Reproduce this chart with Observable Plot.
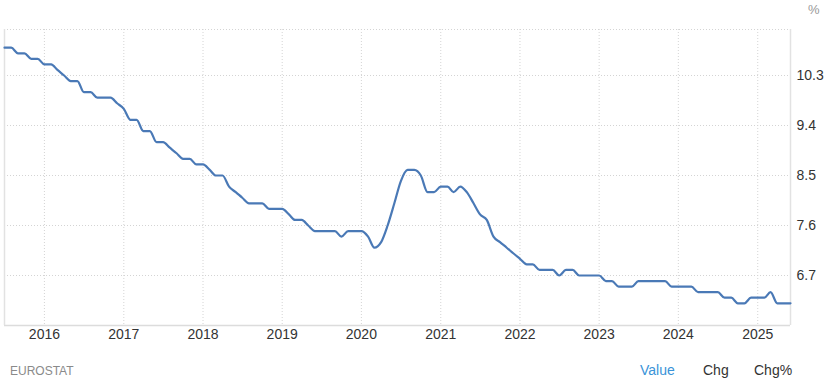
<!DOCTYPE html>
<html>
<head>
<meta charset="utf-8">
<script src="https://cdn.jsdelivr.net/npm/d3@7"></script>
<script src="https://cdn.jsdelivr.net/npm/@observablehq/plot@0.6"></script>
<style>
  html, body { margin: 0; padding: 0; background: #fff; }
  body { width: 835px; height: 385px; position: relative; overflow: hidden;
         font-family: "Liberation Sans", Arial, sans-serif; }
  #chart { position: absolute; left: 0; top: 0; }
  .lbl { position: absolute; white-space: nowrap; line-height: 1; }
</style>
</head>
<body>
<div id="chart"></div>
<div class="lbl" style="left:808px; top:3px; font-size:13px; color:#999;">%</div>
<div class="lbl" style="left:10px; top:365px; font-size:12px; color:#8a8a8a;">EUROSTAT</div>
<div class="lbl" style="left:640px; top:363px; font-size:14px; color:#3a93d8;">Value</div>
<div class="lbl" style="left:703px; top:363px; font-size:14px; color:#333;">Chg</div>
<div class="lbl" style="left:754px; top:363px; font-size:14px; color:#333;">Chg%</div>
<script>
// Monthly values, July 2015 – June 2025 (%)
const firstMonth = "2015-07-01";
const values2015 = [10.8, 10.8, 10.7, 10.7, 10.6, 10.6];               // Jul–Dec
const values2016 = [10.5, 10.5, 10.4, 10.3, 10.2, 10.2, 10.0, 10.0, 9.9, 9.9, 9.9, 9.8];
const values2017 = [9.7, 9.5, 9.5, 9.3, 9.3, 9.1, 9.1, 9.0, 8.9, 8.8, 8.8, 8.7];
const values2018 = [8.7, 8.6, 8.5, 8.5, 8.3, 8.2, 8.1, 8.0, 8.0, 8.0, 7.9, 7.9];
const values2019 = [7.9, 7.8, 7.7, 7.7, 7.6, 7.5, 7.5, 7.5, 7.5, 7.4, 7.5, 7.5];
const values2020 = [7.5, 7.4, 7.2, 7.3, 7.6, 8.0, 8.4, 8.6, 8.6, 8.5, 8.2, 8.2];
const values2021 = [8.3, 8.3, 8.2, 8.3, 8.2, 8.0, 7.8, 7.7, 7.4, 7.3, 7.2, 7.1];
const values2022 = [7.0, 6.9, 6.9, 6.8, 6.8, 6.8, 6.7, 6.8, 6.8, 6.7, 6.7, 6.7];
const values2023 = [6.7, 6.6, 6.6, 6.5, 6.5, 6.5, 6.6, 6.6, 6.6, 6.6, 6.6, 6.5];
const values2024 = [6.5, 6.5, 6.5, 6.4, 6.4, 6.4, 6.4, 6.3, 6.3, 6.2, 6.2, 6.3];
const values2025 = [6.3, 6.3, 6.4, 6.2, 6.2, 6.2];                     // Jan–Jun

const yearTicks = [2016, 2017, 2018, 2019, 2020, 2021, 2022, 2023, 2024, 2025];
const valueTicks = [6.7, 7.6, 8.5, 9.4, 10.3];

const allValues = [].concat(values2015, values2016, values2017, values2018, values2019,
  values2020, values2021, values2022, values2023, values2024, values2025);
const start = new Date(firstMonth);
const data = allValues.map((v, i) => ({date: d3.utcMonth.offset(start, i), value: v}));
const yearDates = yearTicks.map(y => new Date(Date.UTC(y, 0, 1)));

const W = 835, H = 385;
const mL = 4, mR = 45, mT = 29, mB = 60;
const yMin = 5.8, yMax = 11.128;
const xDomain = [data[0].date, data[data.length - 1].date];

const chart = Plot.plot({
  width: W, height: H,
  marginLeft: mL, marginRight: mR, marginTop: mT, marginBottom: mB,
  style: {fontFamily: '"Liberation Sans", Arial, sans-serif', fontSize: "14px", color: "#333", background: "#fff"},
  x: {type: "utc", domain: xDomain, label: null},
  y: {domain: [yMin, yMax], label: null},
  marks: [
    Plot.ruleX(yearDates, {stroke: "#d4d4d4", strokeDasharray: "1,2", strokeWidth: 1}),
    Plot.ruleY(valueTicks, {stroke: "#d4d4d4", strokeDasharray: "1,2", strokeWidth: 1}),
    Plot.ruleY([yMax], {stroke: "#d4d4d4", strokeDasharray: "1,2", strokeWidth: 1}),
    Plot.ruleY([yMin], {stroke: "#dcdcdc", strokeWidth: 1.5}),
    Plot.ruleX([xDomain[0]], {stroke: "#e2e2e2", strokeWidth: 1.5}),
    Plot.ruleX([xDomain[1]], {stroke: "#e2e2e2", strokeWidth: 1.5}),
    Plot.line(data, {x: "date", y: "value", stroke: "#4a79b6", strokeWidth: 2.2, curve: "monotone-x"}),
    Plot.axisX(yearDates, {tickSize: 0, tickPadding: 4, tickFormat: d3.utcFormat("%Y"), fill: "#333", fontSize: 14, label: null}),
    Plot.axisY(valueTicks, {anchor: "right", tickSize: 0, tickPadding: 6, tickFormat: d3.format(".1f"), fill: "#333", fontSize: 14, textAnchor: "start", label: null})
  ]
});
document.getElementById("chart").appendChild(chart);
</script>
</body>
</html>
